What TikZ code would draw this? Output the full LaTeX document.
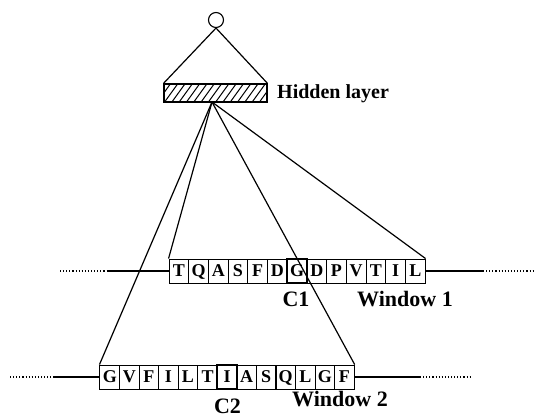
\documentclass[tikz,border=0pt]{standalone}
\usepackage{fontspec}
\setmainfont{Liberation Serif}
\begin{document}
\begin{tikzpicture}[x=1pt,y=-1pt,
  conn/.style={line width=1.2pt},
  seqline/.style={line width=1.2pt},
  dotline/.style={line width=1.1pt, dotted},
  letterbox/.style={draw, line width=0.9pt, minimum width=19.7pt, minimum height=24pt, inner sep=0pt,
     text height=13pt, text depth=3pt, font=\fontsize{18}{20}\selectfont\bfseries},
  keybox/.style={letterbox, line width=2.2pt},
  lbl/.style={inner sep=0pt, font=\fontsize{22}{24}\selectfont\bfseries}
]
\useasboundingbox (0,0) rectangle (534,418);
% output unit and hidden layer
\node[draw, circle, line width=1.1pt, minimum size=15pt, inner sep=0pt] (out) at (216,20) {};
\node[draw, line width=1.1pt, minimum width=103pt, minimum height=18pt, inner sep=0pt] (hid) at (215.5,93) {};
\begin{scope}
  \clip (164,84) rectangle (267,102);
  \foreach \i in {0,...,16} { \draw[line width=1pt] (150+\i*7.3,102) -- ++(13,-18); }
\end{scope}
\draw[line width=1.2pt] (164,84) rectangle (267,102);
\draw[conn] (out.south) -- (hid.north west);
\draw[conn] (out.south) -- (hid.north east);
\node[lbl, anchor=base west, font=\fontsize{20}{22}\selectfont\bfseries] (hl) at (277,98) {Hidden layer};
\coordinate (apex) at (212,102);
% window 1
\foreach \l [count=\i] in {T,Q,A,S,F,D,G,D,P,V,T,I,L} {
  \ifnum\i=7
    \node[keybox] (wa\i) at (169+\i*19.7-9.85,271) {\l};
  \else
    \node[letterbox] (wa\i) at (169+\i*19.7-9.85,271) {\l};
  \fi
}
% window 2
\foreach \l [count=\i] in {G,V,F,I,L,T,I,A,S,Q,L,G,F} {
  \ifnum\i=7
    \node[keybox] (wb\i) at (100+\i*19.55-9.775,377) {\l};
  \else
    \node[letterbox] (wb\i) at (100+\i*19.55-9.775,377) {\l};
  \fi
}
% sequence lines
\coordinate (a0) at (60,271);  \coordinate (a1) at (107,271);
\coordinate (a2) at (483,271); \coordinate (a3) at (533,271);
\coordinate (b0) at (10,377);  \coordinate (b1) at (53,377);
\coordinate (b2) at (420,377); \coordinate (b3) at (472,377);
\draw[dotline] (a0) -- (a1);
\draw[seqline] (a1) -- (wa1.west);
\draw[seqline] (wa13.east) -- (a2);
\draw[dotline] (a2) -- (a3);
\draw[dotline] (b0) -- (b1);
\draw[seqline] (b1) -- (wb1.west);
\draw[seqline] (wb13.east) -- (b2);
\draw[dotline] (b2) -- (b3);
% connections from hidden layer
\draw[conn] (apex) -- (wb1.north west);
\draw[conn] (apex) -- (wa1.north west);
\draw[conn] (apex) -- (wb13.north east);
\draw[conn] (apex) -- (wa13.north east);
% labels
\node[lbl, anchor=base] (c1) at (296,306) {C1};
\node[lbl, anchor=base west] (w1) at (357,306) {Window 1};
\node[lbl, anchor=base] (c2) at (227.5,413) {C2};
\node[lbl, anchor=base west] (w2) at (292,406) {Window 2};
\end{tikzpicture}
\end{document}
